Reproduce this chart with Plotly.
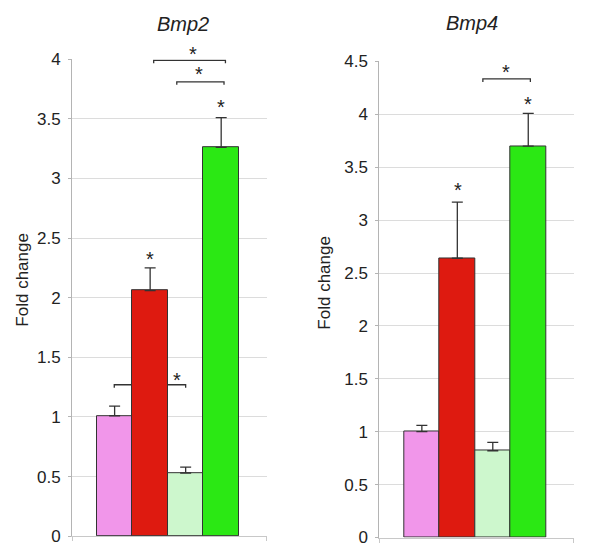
import plotly.graph_objects as go

# ---- data ----
groups = ["Group 1", "Group 2", "Group 3", "Group 4"]
bar_colors = ["#f196ea", "#de1a10", "#cdf7cd", "#2be814"]

bmp2_values = [1.01, 2.06, 0.53, 3.26]
bmp2_err_up = [0.08, 0.19, 0.05, 0.25]

bmp4_values = [1.00, 2.64, 0.82, 3.70]
bmp4_err_up = [0.06, 0.53, 0.08, 0.31]

y_ticks_bmp2 = [0, 0.5, 1, 1.5, 2, 2.5, 3, 3.5, 4]
y_ticks_bmp4 = [0, 0.5, 1, 1.5, 2, 2.5, 3, 3.5, 4, 4.5]

# significance brackets (x0, x1, y) in data units
bmp2_brackets = [(1.10, 3.12, 3.99), (1.75, 3.08, 3.81), (-0.01, 2.0, 1.27)]
bmp4_brackets = [(1.72, 3.06, 4.335)]
# asterisks (x, y, extra pixel shift) in data units
bmp2_stars = [(1.0, 2.36, 0), (1.75, 1.345, 0), (2.2, 4.0, 9), (2.37, 3.91, 0), (2.99, 3.63, 0)]
bmp4_stars = [(1.01, 3.32, 0), (2.99, 4.14, 0), (2.37, 4.44, 0)]

positions = list(range(len(groups)))
FONT = "Liberation Sans, Arial, sans-serif"

# page has an 8px body margin
W, H, M = 584, 560, 8


def fx(px):
    return (px - M) / W


def fy(py):
    page_y = (py - 10.2) / 0.964
    return 1 - (page_y - M) / H


fig = go.Figure()

panels = [
    dict(vals=bmp2_values, err=bmp2_err_up, xa="x", ya="y", ticks=y_ticks_bmp2,
         rng=[0, 4.0], br=bmp2_brackets, st=bmp2_stars, tick=0.025,
         xdom=[fx(72), fx(267)], ydom=[fy(536), fy(60)]),
    dict(vals=bmp4_values, err=bmp4_err_up, xa="x2", ya="y2", ticks=y_ticks_bmp4,
         rng=[0, 4.5], br=bmp4_brackets, st=bmp4_stars, tick=0.028,
         xdom=[fx(379.3), fx(574)], ydom=[fy(537.3), fy(62.3)]),
]

for i, p in enumerate(panels):
    fig.add_trace(go.Bar(
        x=positions, y=p["vals"], width=1,
        marker=dict(color=bar_colors, line=dict(color="#333333", width=1)),
        error_y=dict(type="data", symmetric=False, array=p["err"],
                     arrayminus=[0] * len(p["vals"]), color="#333333",
                     thickness=1.3, width=5.5),
        xaxis=p["xa"], yaxis=p["ya"], showlegend=False, hoverinfo="skip",
    ))
    for (x0, x1, y) in p["br"]:
        d = p["tick"]
        fig.add_shape(type="path",
                      path=f"M {x0},{y - d} L {x0},{y} L {x1},{y} L {x1},{y - d}",
                      xref=p["xa"], yref=p["ya"], layer="between",
                      line=dict(color="#333333", width=1.3))
    for (x, y, s) in p["st"]:
        fig.add_annotation(x=x, y=y, xref=p["xa"], yref=p["ya"], text="*",
                           showarrow=False, yanchor="middle", yshift=-4 + s,
                           font=dict(family=FONT, size=20, color="#222222"))

axis_common_x = dict(range=[-1.2, 4.29], showgrid=False, zeroline=False,
                     showline=True, linecolor="#c8c8c8", linewidth=1,
                     tickvals=[-1.195, 4.285], ticks="outside", ticklen=4,
                     tickcolor="#c8c8c8", showticklabels=False, fixedrange=True)

yaxis_common = dict(showgrid=True, gridcolor="#dcdcdc", gridwidth=1, zeroline=False,
                    showline=True, linecolor="#b4b4b4", ticks="outside", ticklen=3,
                    tickcolor="#b4b4b4", ticklabelstandoff=4,
                    tickfont=dict(family=FONT, size=17, color="#222222"), fixedrange=True)

fig.update_layout(
    width=W, height=H, autosize=False,
    margin=dict(l=0, r=0, t=0, b=0),
    paper_bgcolor="white", plot_bgcolor="white",
    bargap=0,
    xaxis=dict(domain=panels[0]["xdom"], anchor="y", **axis_common_x),
    xaxis2=dict(domain=panels[1]["xdom"], anchor="y2", **axis_common_x),
    yaxis=dict(domain=panels[0]["ydom"], anchor="x", range=panels[0]["rng"],
               tickvals=panels[0]["ticks"],
               ticktext=[f"{v:g}" for v in panels[0]["ticks"]], **yaxis_common),
    yaxis2=dict(domain=panels[1]["ydom"], anchor="x2", range=panels[1]["rng"],
                tickvals=panels[1]["ticks"],
                ticktext=[f"{v:g}" for v in panels[1]["ticks"]], **yaxis_common),
)

# titles and axis labels
for (txt, x, y) in [("Bmp2", 183, 25), ("Bmp4", 472, 24)]:
    fig.add_annotation(x=fx(x), y=fy(y), xref="paper", yref="paper",
                       text=f"<i>{txt}</i>", showarrow=False,
                       xanchor="center", yanchor="middle",
                       font=dict(family=FONT, size=20, color="#222222"))
for (x, y) in [(23, 280), (325, 283)]:
    fig.add_annotation(x=fx(x), y=fy(y), xref="paper", yref="paper",
                       text="Fold change", textangle=-90, showarrow=False,
                       xanchor="center", yanchor="middle",
                       font=dict(family=FONT, size=17, color="#222222"))

fig.write_html("out.html")
